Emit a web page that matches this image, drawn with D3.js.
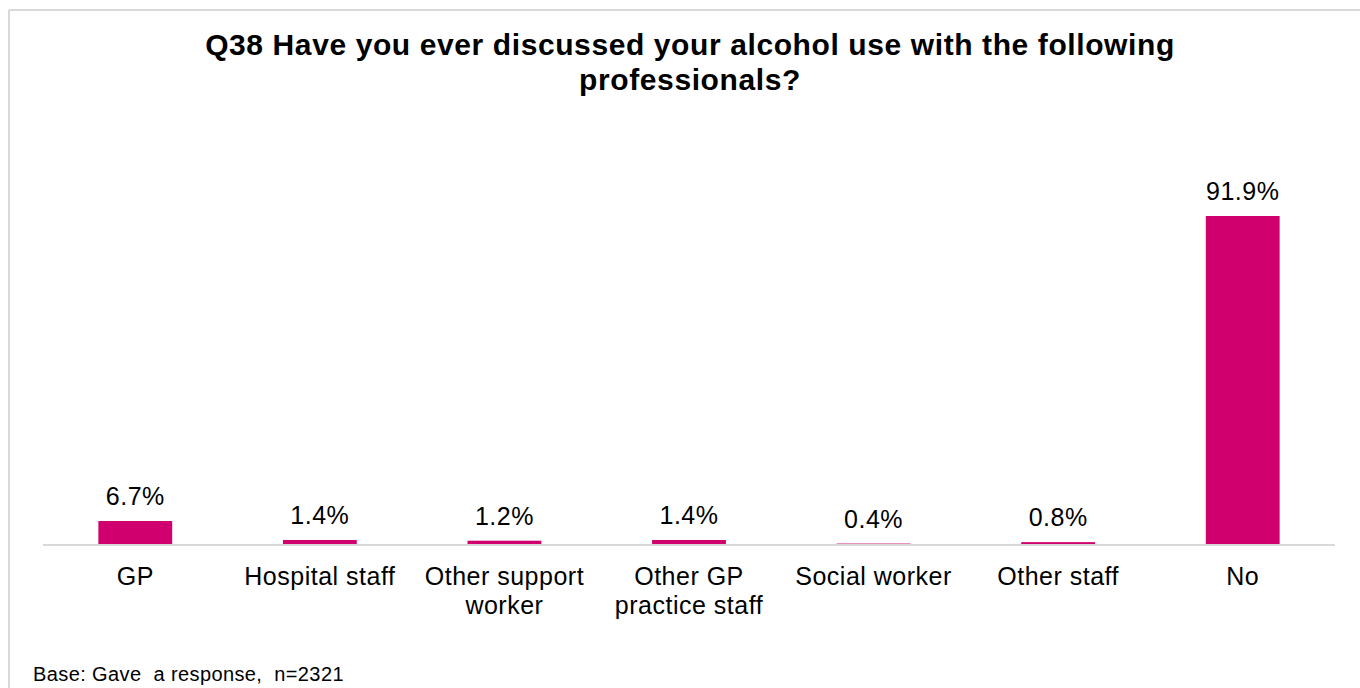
<!DOCTYPE html>
<html>
<head>
<meta charset="utf-8">
<script src="https://cdn.jsdelivr.net/npm/d3@7"></script>
<style>
  body { margin: 0; background: #fff; }
  svg { display: block; font-family: "Liberation Sans", Arial, sans-serif; }
</style>
</head>
<body>
<svg id="chart" width="1360" height="688"></svg>
<script>
// Chart data
const categories = ["GP", "Hospital staff", "Other support worker", "Other GP practice staff", "Social worker", "Other staff", "No"];
const categoryLines = [["GP"], ["Hospital staff"], ["Other support", "worker"], ["Other GP", "practice staff"], ["Social worker"], ["Other staff"], ["No"]];
const values = [6.7, 1.4, 1.2, 1.4, 0.4, 0.8, 91.9];
const titleLines = ["Q38 Have you ever discussed your alcohol use with the following", "professionals?"];
const baseNote = "Base: Gave  a response,  n=2321";

const svg = d3.select("#chart");
const barColor = "#d0006f";

// frame around the chart area
svg.append("line").attr("x1", 9).attr("x2", 1360).attr("y1", 10).attr("y2", 10)
    .attr("stroke", "#d9d9d9").attr("stroke-width", 2);
svg.append("line").attr("x1", 9).attr("x2", 9).attr("y1", 10).attr("y2", 688)
    .attr("stroke", "#d9d9d9").attr("stroke-width", 2);

// title
svg.append("text")
    .attr("x", 690).attr("y", 55)
    .attr("text-anchor", "middle")
    .attr("font-size", 30).attr("font-weight", "bold").attr("fill", "#000")
    .attr("letter-spacing", 0.6)
    .selectAll("tspan").data(titleLines).enter().append("tspan")
    .attr("x", 690).attr("dy", (d, i) => i === 0 ? 0 : 35)
    .text(d => d);

const x = d3.scaleBand().domain(categories).range([43, 1335]).paddingInner(0.6).paddingOuter(0.3);
const y = d3.scaleLinear().domain([0, 100]).range([545, 187]);

// bars
svg.append("g").selectAll("rect").data(values).enter().append("rect")
    .attr("x", (d, i) => x(categories[i]))
    .attr("width", x.bandwidth())
    .attr("y", d => y(d))
    .attr("height", d => y(0) - y(d))
    .attr("fill", barColor);

// baseline axis
const axis = svg.append("g").attr("transform", "translate(0," + y(0) + ")")
    .call(d3.axisBottom(x).tickSize(0).tickFormat(""));
axis.select(".domain").attr("stroke", "#d9d9d9").attr("stroke-width", 2).attr("d", "M43,0H1335");

// category labels
const lab = svg.append("g").selectAll("text").data(categories).enter().append("text")
    .attr("text-anchor", "middle")
    .attr("font-size", 25).attr("letter-spacing", 0.5).attr("fill", "#000")
    .attr("y", 585);
lab.selectAll("tspan").data((d, i) => categoryLines[i].map(t => ({ t, c: d }))).enter().append("tspan")
    .attr("x", d => x(d.c) + x.bandwidth() / 2)
    .attr("dy", (d, i) => i === 0 ? 0 : 29)
    .text(d => d.t);

// value labels
svg.append("g").selectAll("text").data(values).enter().append("text")
    .attr("x", (d, i) => x(categories[i]) + x.bandwidth() / 2)
    .attr("y", d => y(d) - 16)
    .attr("text-anchor", "middle")
    .attr("font-size", 25).attr("letter-spacing", 0.5).attr("fill", "#000")
    .text(d => d.toFixed(1) + "%");

// base note
svg.append("text").attr("x", 33).attr("y", 681)
    .attr("font-size", 20).attr("letter-spacing", 0.4).attr("fill", "#000")
    .attr("xml:space", "preserve").style("white-space", "pre")
    .text(baseNote);
</script>
</body>
</html>
